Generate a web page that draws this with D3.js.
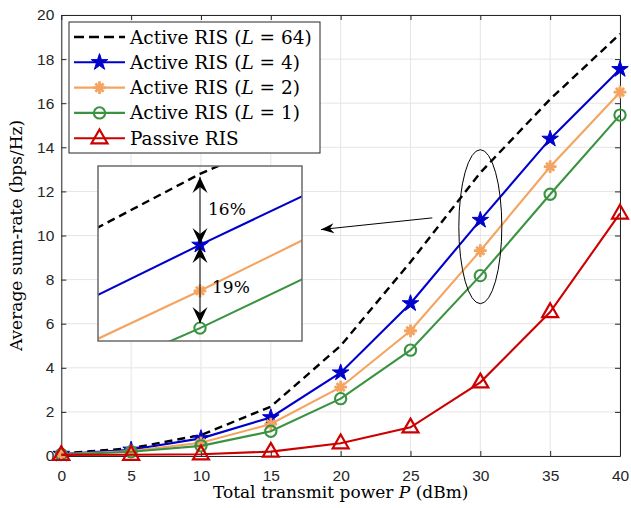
<!DOCTYPE html>
<html>
<head>
<meta charset="utf-8">
<script src="https://cdn.jsdelivr.net/npm/d3@7"></script>
<style>
  body { margin: 0; background: #fff; }
  svg { display: block; }
  .tick text { font-family: "Liberation Sans", Arial, sans-serif; font-size: 15.5px; fill: #262626; }
  .serif { font-family: "DejaVu Serif", "Liberation Serif", serif; fill: #000; }
</style>
</head>
<body>
<svg id="chart" width="631" height="508"></svg>
<script>
// ---- data ----
var power = [0, 5, 10, 15, 20, 25, 30, 35, 40];   // dBm
var activeL64 = [0.12, 0.35, 0.95, 2.24, 5.0, 8.8, 12.85, 16.18, 19.14];
var activeL4  = [0.09, 0.28, 0.8, 1.75, 3.78, 6.92, 10.7, 14.38, 17.54];
var activeL2  = [0.08, 0.22, 0.6, 1.45, 3.12, 5.68, 9.31, 13.12, 16.5];
var activeL1  = [0.07, 0.19, 0.46, 1.12, 2.6, 4.8, 8.18, 11.87, 15.46];
var passive   = [0.05, 0.06, 0.08, 0.2, 0.58, 1.3, 3.34, 6.53, 11.0];
var xTicks = [0, 5, 10, 15, 20, 25, 30, 35, 40];
var yTicks = [0, 2, 4, 6, 8, 10, 12, 14, 16, 18, 20];
var gapLabels = ["16%", "19%"];

// series styles
var series = [
    { name: "64", values: activeL64, color: "#000000", dash: "8,5", width: 2.4, marker: null },
    { name: "4",  values: activeL4,  color: "#0000cd", dash: null, width: 2.1, marker: "star" },
    { name: "2",  values: activeL2,  color: "#f4a460", dash: null, width: 2.1, marker: "asterisk" },
    { name: "1",  values: activeL1,  color: "#3a9340", dash: null, width: 2.1, marker: "circle" },
    { name: "Passive RIS", values: passive, color: "#cc0000", dash: null, width: 2.1, marker: "triangle" }
];

function main() {
    var svg = d3.select("#chart");
    var left = 61.3, right = 620, plotTop = 15, bottom = 456;

    var x = d3.scaleLinear().domain([0, 40]).range([left, right]);
    var y = d3.scaleLinear().domain([0, 20]).range([bottom, plotTop]);

    // grid
    svg.append("g").selectAll("line").data(xTicks).enter().append("line")
        .attr("x1", d => x(d)).attr("x2", d => x(d))
        .attr("y1", plotTop).attr("y2", bottom)
        .attr("stroke", "#e5e5e5").attr("stroke-width", 1);
    svg.append("g").selectAll("line").data(yTicks).enter().append("line")
        .attr("x1", left).attr("x2", right)
        .attr("y1", d => y(d)).attr("y2", d => y(d))
        .attr("stroke", "#e5e5e5").attr("stroke-width", 1);

    // axes (ticks pointing inward, MATLAB box style)
    function styleAxis(g) {
        g.select(".domain").attr("stroke", "#262626").attr("stroke-width", 1);
        g.selectAll(".tick line").attr("stroke", "#262626");
    }
    svg.append("g").attr("transform", "translate(0," + bottom + ")")
        .call(d3.axisBottom(x).tickValues(xTicks).tickSizeInner(-5).tickSizeOuter(0).tickPadding(13.5))
        .call(styleAxis);
    svg.append("g").attr("transform", "translate(0," + plotTop + ")")
        .call(d3.axisTop(x).tickValues(xTicks).tickSizeInner(-5).tickSizeOuter(0).tickFormat(""))
        .call(styleAxis);
    svg.append("g").attr("transform", "translate(" + left + ",0)")
        .call(d3.axisLeft(y).tickValues(yTicks).tickSizeInner(-5).tickSizeOuter(0).tickPadding(7))
        .call(styleAxis);
    svg.append("g").attr("transform", "translate(" + right + ",0)")
        .call(d3.axisRight(y).tickValues(yTicks).tickSizeInner(-5).tickSizeOuter(0).tickFormat(""))
        .call(styleAxis);

    // arrowhead markers
    var defs = svg.append("defs");
    defs.append("marker").attr("id", "head")
        .attr("viewBox", "-17 -9 18 18").attr("markerWidth", 18).attr("markerHeight", 18)
        .attr("refX", 0).attr("refY", 0).attr("orient", "auto-start-reverse")
        .attr("markerUnits", "userSpaceOnUse")
        .append("path").attr("d", "M0,0 L-16,-7.5 L-10,0 L-16,7.5 Z").attr("fill", "#000");
    defs.append("marker").attr("id", "headSmall")
        .attr("viewBox", "-14 -6 15 12").attr("markerWidth", 15).attr("markerHeight", 12)
        .attr("refX", 0).attr("refY", 0).attr("orient", "auto")
        .attr("markerUnits", "userSpaceOnUse")
        .append("path").attr("d", "M0,0 L-13,-5 L-9,0 L-13,5 Z").attr("fill", "#000");

    function drawMarker(g, type, color) {
        if (type === "star") {
            g.append("path").attr("d", d3.symbol(d3.symbolStar, 85)())
                .attr("fill", color).attr("stroke", color).attr("stroke-width", 1);
        } else if (type === "asterisk") {
            g.append("path").attr("d", d3.symbol(d3.symbolPlus, 55)())
                .attr("fill", "none").attr("stroke", color).attr("stroke-width", 2.8);
            g.append("path").attr("d", d3.symbol(d3.symbolTimes, 45)())
                .attr("fill", "none").attr("stroke", color).attr("stroke-width", 2.8);
        } else if (type === "circle") {
            g.append("path").attr("d", d3.symbol(d3.symbolCircle, 100)())
                .attr("fill", "none").attr("stroke", color).attr("stroke-width", 2.1);
        } else if (type === "triangle") {
            g.append("path").attr("d", d3.symbol(d3.symbolTriangle, 110)())
                .attr("transform", "translate(0,0.5)")
                .attr("fill", "none").attr("stroke", color).attr("stroke-width", 2.2);
        }
    }

    function plotSeries(root, sx, sy, xs) {
        series.forEach(function(s) {
            var pts = power.map((p, i) => ({ p: p, v: s.values[i] }));
            var line = d3.line().x(d => sx(d.p)).y(d => sy(d.v));
            root.append("path").datum(pts)
                .attr("fill", "none").attr("stroke", s.color)
                .attr("stroke-width", s.width)
                .attr("stroke-dasharray", s.dash)
                .attr("d", line);
            if (s.marker) {
                pts.filter(d => xs.indexOf(d.p) >= 0).forEach(function(d) {
                    var g = root.append("g").attr("transform", "translate(" + sx(d.p) + "," + sy(d.v) + ")");
                    drawMarker(g, s.marker, s.color);
                });
            }
        });
    }

    plotSeries(svg.append("g"), x, y, power);

    // ellipse around the P = 30 dBm points
    svg.append("ellipse")
        .attr("cx", x(30)).attr("cy", y(10.4))
        .attr("rx", 21.5).attr("ry", 77)
        .attr("fill", "none").attr("stroke", "#000").attr("stroke-width", 1);

    // ---- inset (zoom around P = 30 dBm) ----
    var inL = 98, inR = 302, inT = 166, inB = 341;
    var ix = d3.scaleLinear().domain([28, 32]).range([inL, inR]);
    var iy = d3.scaleLinear().domain([7.79, 13.09]).range([inB, inT]);

    // pointer from ellipse to inset
    svg.append("line")
        .attr("x1", x(30) - 48).attr("y1", y(10.8))
        .attr("x2", inR + 19).attr("y2", y(10.27))
        .attr("stroke", "#000").attr("stroke-width", 1)
        .attr("marker-end", "url(#headSmall)");

    svg.append("rect").attr("x", inL).attr("y", inT)
        .attr("width", inR - inL).attr("height", inB - inT)
        .attr("fill", "#fff");
    defs.append("clipPath").attr("id", "insetClip")
        .append("rect").attr("x", inL).attr("y", inT)
        .attr("width", inR - inL).attr("height", inB - inT);
    var inset = svg.append("g").attr("clip-path", "url(#insetClip)");
    inset.selectAll(".ig").data([28, 30, 32]).enter().append("line")
        .attr("x1", d => ix(d)).attr("x2", d => ix(d)).attr("y1", inT).attr("y2", inB)
        .attr("stroke", "#e5e5e5");
    plotSeries(inset, ix, iy, [30]);

    // gap arrows
    var i30 = power.indexOf(30);
    svg.append("line")
        .attr("x1", ix(30)).attr("x2", ix(30))
        .attr("y1", iy(activeL64[i30]) + 3).attr("y2", iy(activeL4[i30]) - 1)
        .attr("stroke", "#000").attr("stroke-width", 1)
        .attr("marker-start", "url(#head)").attr("marker-end", "url(#head)");
    svg.append("line")
        .attr("x1", ix(30)).attr("x2", ix(30))
        .attr("y1", iy(activeL4[i30]) + 2).attr("y2", iy(activeL1[i30]) - 5)
        .attr("stroke", "#000").attr("stroke-width", 1)
        .attr("marker-start", "url(#head)").attr("marker-end", "url(#head)");
    svg.append("text").attr("class", "serif")
        .attr("x", ix(30) + 8).attr("y", (iy(activeL64[i30]) + iy(activeL4[i30])) / 2 + 6)
        .attr("font-size", 17).text(gapLabels[0]);
    svg.append("text").attr("class", "serif")
        .attr("x", ix(30) + 12).attr("y", (iy(activeL4[i30]) + iy(activeL1[i30])) / 2 + 6)
        .attr("font-size", 17).text(gapLabels[1]);

    svg.append("rect").attr("x", inL).attr("y", inT)
        .attr("width", inR - inL).attr("height", inB - inT)
        .attr("fill", "none").attr("stroke", "#6b6b6b").attr("stroke-width", 1.5);

    // ---- legend ----
    var legX = 69, legY = 22, legW = 251, legH = 131, rowH = 25.3;
    var legend = svg.append("g");
    legend.append("rect").attr("x", legX).attr("y", legY)
        .attr("width", legW).attr("height", legH)
        .attr("fill", "#fff").attr("stroke", "#262626").attr("stroke-width", 1);
    series.forEach(function(s, i) {
        var cy = legY + 15 + i * rowH;
        var g = legend.append("g");
        g.append("line").attr("x1", legX + 5).attr("x2", legX + 56)
            .attr("y1", cy).attr("y2", cy)
            .attr("stroke", s.color).attr("stroke-width", s.width)
            .attr("stroke-dasharray", s.dash ? "10,5" : null);
        if (s.marker) {
            drawMarker(g.append("g").attr("transform", "translate(" + (legX + 30.5) + "," + cy + ")"), s.marker, s.color);
        }
        var t = g.append("text").attr("class", "serif")
            .attr("x", legX + 61).attr("y", cy + 6.5).attr("font-size", 18.5);
        if (s.name === "Passive RIS") {
            t.text("Passive RIS");
        } else {
            t.append("tspan").text("Active RIS (");
            t.append("tspan").attr("font-style", "italic").text("L");
            t.append("tspan").text(" = " + s.name + ")");
        }
    });

    // ---- axis titles ----
    var xt = svg.append("text").attr("class", "serif")
        .attr("x", (left + right) / 2).attr("y", 498)
        .attr("text-anchor", "middle").attr("font-size", 17);
    xt.append("tspan").text("Total transmit power ");
    xt.append("tspan").attr("font-style", "italic").text("P");
    xt.append("tspan").text(" (dBm)");

    svg.append("text").attr("class", "serif")
        .attr("transform", "translate(22," + ((plotTop + bottom) / 2) + ") rotate(-90)")
        .attr("text-anchor", "middle").attr("font-size", 17)
        .text("Average sum-rate (bps/Hz)");
}

main();
</script>
</body>
</html>
